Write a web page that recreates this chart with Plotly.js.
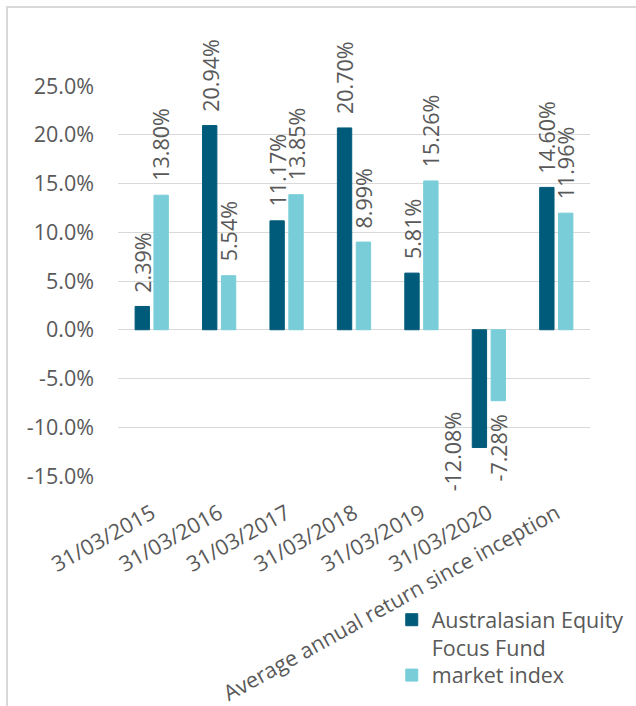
<!DOCTYPE html>
<html>
<head>
<meta charset="utf-8">
<script src="https://cdn.plot.ly/plotly-3.0.1.min.js"></script>
<style>
  html, body { margin: 0; padding: 0; background: #ffffff; }
  #wrap { position: relative; width: 636px; height: 706px; overflow: hidden; }
  #chart { width: 636px; height: 706px; }
  #frame { position: absolute; left: 6px; top: 6px; width: 700px; height: 800px;
           border-left: 2px solid #D9D9D9; border-top: 2px solid #D9D9D9; pointer-events: none; }
</style>
</head>
<body>
<div id="wrap">
  <div id="chart"></div>
  <div id="frame"></div>
</div>
<script>
// ---- data ----
const categories = ["31/03/2015", "31/03/2016", "31/03/2017", "31/03/2018", "31/03/2019", "31/03/2020", "Average annual return since inception"];
const fundName = "Australasian Equity<br>Focus Fund";
const indexName = "market index";
const fundValues = [2.39, 20.94, 11.17, 20.70, 5.81, -12.08, 14.60];
const indexValues = [13.80, 5.54, 13.85, 8.99, 15.26, -7.28, 11.96];
const yTickVals = [-15, -10, -5, 0, 5, 10, 15, 20, 25];
const yTickText = ["-15.0%", "-10.0%", "-5.0%", "0.0%", "5.0%", "10.0%", "15.0%", "20.0%", "25.0%"];

// ---- style ----
const W = 636, H = 706;
const M = { l: 118, r: 46, t: 86, b: 230, autoexpand: false };
const FONT = "Open Sans, sans-serif";
const FS = 21.5;
const TXT = "#595959";
const DARK = "#005B7A";
const LIGHT = "#78CDD8";
const bargap = 0.44;
const yRange = [-15, 25];

const plotW = W - M.l - M.r;
const plotH = H - M.t - M.b;
const catW = plotW / categories.length;
const slot = (1 - bargap) * catW / 2;
const pxPerUnit = plotH / (yRange[1] - yRange[0]);
const floorPx = 14;     // labels may reach this far below the axis bottom
const labelGap = 13;

// approximate Open Sans advance widths (em) for label length
function labelLen(t) {
  let em = 0;
  for (const ch of t) em += ch === "%" ? 0.847 : ch === "." ? 0.267 : ch === "-" ? 0.322 : 0.572;
  return em * FS;
}

function labelAnn(cat, v, shift) {
  const txt = v.toFixed(2) + "%";
  const a = {
    x: cat, y: v, xref: "x", yref: "y", text: txt, showarrow: false,
    textangle: -90, xshift: shift, borderpad: 0,
    font: { family: FONT, size: FS, color: TXT }
  };
  if (v >= 0) {
    a.yanchor = "bottom"; a.yshift = labelGap;
  } else {
    a.yanchor = "top"; a.yshift = -labelGap;
    const vPx = (v - yRange[0]) * pxPerUnit;
    const bottom = vPx - labelGap - labelLen(txt);
    if (bottom < -floorPx) {
      a.yshift += (-floorPx - bottom);
      a.xshift = shift - 26;
    }
  }
  return a;
}

const annotations = [];
categories.forEach((c, i) => {
  annotations.push(labelAnn(c, fundValues[i], -slot / 2));
  annotations.push(labelAnn(c, indexValues[i], slot / 2));
});

const traces = [
  { type: "bar", name: fundName, x: categories, y: fundValues, legend: "legend",
    marker: { color: DARK, line: { color: DARK, width: 1 } } },
  { type: "bar", name: indexName, x: categories, y: indexValues, legend: "legend2",
    marker: { color: LIGHT, line: { color: LIGHT, width: 1 } } }
];

const legendStyle = {
  xanchor: "left", yanchor: "top", valign: "top",
  font: { family: FONT, size: FS, color: TXT },
  bgcolor: "rgba(0,0,0,0)", borderwidth: 0
};

const layout = {
  width: W, height: H,
  margin: M,
  paper_bgcolor: "#ffffff", plot_bgcolor: "#ffffff",
  font: { family: FONT, size: FS, color: TXT },
  barmode: "group", bargap: bargap, bargroupgap: 0.24,
  showlegend: true,
  legend: Object.assign({ x: 0.58, y: -0.316 }, legendStyle),
  legend2: Object.assign({ x: 0.58, y: -0.458 }, legendStyle),
  xaxis: {
    type: "category", tickangle: -29, showgrid: false, zeroline: false,
    showline: false, ticks: "", ticklabelstandoff: 20, automargin: false,
    tickfont: { family: FONT, size: FS, color: TXT }
  },
  yaxis: {
    range: yRange, tickvals: yTickVals, ticktext: yTickText,
    showgrid: true, gridcolor: "#D9D9D9", gridwidth: 1, automargin: false,
    zeroline: false, showline: false, ticks: "", ticklabelstandoff: 23,
    tickfont: { family: FONT, size: FS, color: TXT }
  },
  annotations: annotations
};

Plotly.newPlot("chart", traces, layout, { staticPlot: true, displayModeBar: false });
</script>
</body>
</html>
